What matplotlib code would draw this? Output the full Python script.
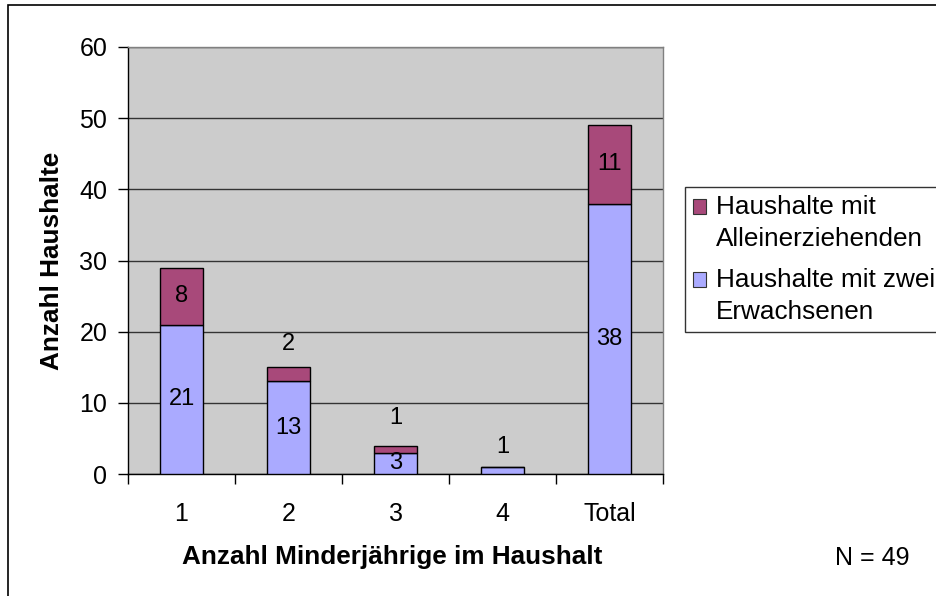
import matplotlib
matplotlib.use("Agg")
import matplotlib.pyplot as plt
from matplotlib.patches import Patch, Rectangle
from matplotlib.legend_handler import HandlerPatch
import numpy as np

plt.rcParams['font.family'] = ['Liberation Sans', 'DejaVu Sans']

categories = ["1", "2", "3", "4", "Total"]
zwei_erwachsene = [21, 13, 3, 1, 38]
alleinerziehende = [8, 2, 1, 0, 11]
y_ticks = [0, 10, 20, 30, 40, 50, 60]

series_names = ["Haushalte mit\nAlleinerziehenden", "Haushalte mit zwei\nErwachsenen"]
col_blue = "#AAAAFF"
col_red = "#A8497A"
bg = "#CCCCCC"

W, H = 936, 596
fig = plt.figure(figsize=(W / 100, H / 100), dpi=100)
ax = fig.add_axes([128 / W, 1 - 474 / H, (663 - 128) / W, (474 - 47) / H])
ax.set_facecolor(bg)

x = np.arange(len(categories))
bw = 0.41
ax.bar(x, zwei_erwachsene, bw, color=col_blue, edgecolor="black", linewidth=1, zorder=3)
ax.bar(x, alleinerziehende, bw, bottom=zwei_erwachsene, color=col_red,
       edgecolor="black", linewidth=1, zorder=3)

ax.set_xlim(-0.5, len(categories) - 0.5)
ax.set_ylim(0, 60)
ax.set_yticks(y_ticks)
ax.yaxis.grid(True, color="#333333", linewidth=1, zorder=1)
ax.set_axisbelow(True)

tick_fs = 18
ax.set_xticks(np.arange(-0.5, len(categories) + 0.5, 1))
ax.set_xticklabels([])
ax.set_xticks(x, minor=True)
ax.set_xticklabels(categories, minor=True)
ax.tick_params(axis="x", which="major", direction="out", length=7, width=1, color="black")
ax.tick_params(axis="x", which="minor", length=0, pad=20, labelsize=tick_fs)
ax.tick_params(axis="y", direction="out", length=7, width=1, pad=8, labelsize=tick_fs)

for s in ["left", "bottom"]:
    ax.spines[s].set_color("black")
    ax.spines[s].set_linewidth(1)
for s in ["top", "right"]:
    ax.spines[s].set_color("#808080")
    ax.spines[s].set_linewidth(1)

ax.set_ylabel("Anzahl Haushalte", fontsize=18.8, fontweight="bold", va="center")
ax.yaxis.set_label_coords((52 - 128) / 535, 0.5)
ax.set_xlabel("Anzahl Minderjährige im Haushalt", fontsize=18.8, fontweight="bold", va="center")
ax.xaxis.set_label_coords((392 - 128) / 535, (474 - 557) / 427)

# value labels
lab_fs = 17
small = 3
above_offsets = {(1, 1): 17, (2, 1): 20, (3, 0): 14}  # points above stack top
for i in range(len(categories)):
    tops = zwei_erwachsene[i] + alleinerziehende[i]
    for j, (val, base) in enumerate([(zwei_erwachsene[i], 0),
                                      (alleinerziehende[i], zwei_erwachsene[i])]):
        if val == 0:
            continue
        if val < small:
            ax.annotate(str(val), (x[i], tops), xytext=(0, above_offsets.get((i, j), 16)),
                        textcoords="offset points", ha="center", va="center",
                        fontsize=lab_fs, zorder=5)
        else:
            ax.text(x[i], base + val / 2, str(val), ha="center", va="center",
                    fontsize=lab_fs, zorder=5)

leg_fs = 18.8
leg_ls = 1.42


def top_square(legend, orig_handle, xdescent, ydescent, width, height, fontsize):
    shift = 0.5 * 0.91 * leg_ls * fontsize
    return Rectangle((-xdescent, -ydescent + shift), width, height)


handles = [Patch(facecolor=col_red, edgecolor="#333333", linewidth=0.8),
           Patch(facecolor=col_blue, edgecolor="#333333", linewidth=0.8)]
leg = fig.legend(handles, series_names, loc="upper left",
                 bbox_to_anchor=(685 / W, 1 - 187 / H), bbox_transform=fig.transFigure,
                 fontsize=leg_fs, frameon=True, fancybox=False, borderaxespad=0,
                 handlelength=0.5, handleheight=0.5, handletextpad=0.38,
                 labelspacing=0.65, borderpad=0.3,
                 handler_map={Patch: HandlerPatch(patch_func=top_square)})
leg.get_frame().set_edgecolor("black")
leg.get_frame().set_linewidth(1)
for t in leg.get_texts():
    t.set_linespacing(leg_ls)

fig.text(872 / W, 1 - 558 / H, "N = 49", ha="center", va="center", fontsize=18)

# outer chart border
fig.patches.append(Rectangle((8 / W, -0.1), 1.2, 1 - 5 / H + 0.1, transform=fig.transFigure,
                             fill=False, edgecolor="black", linewidth=1.2))

fig.savefig("out.png", dpi=100)
